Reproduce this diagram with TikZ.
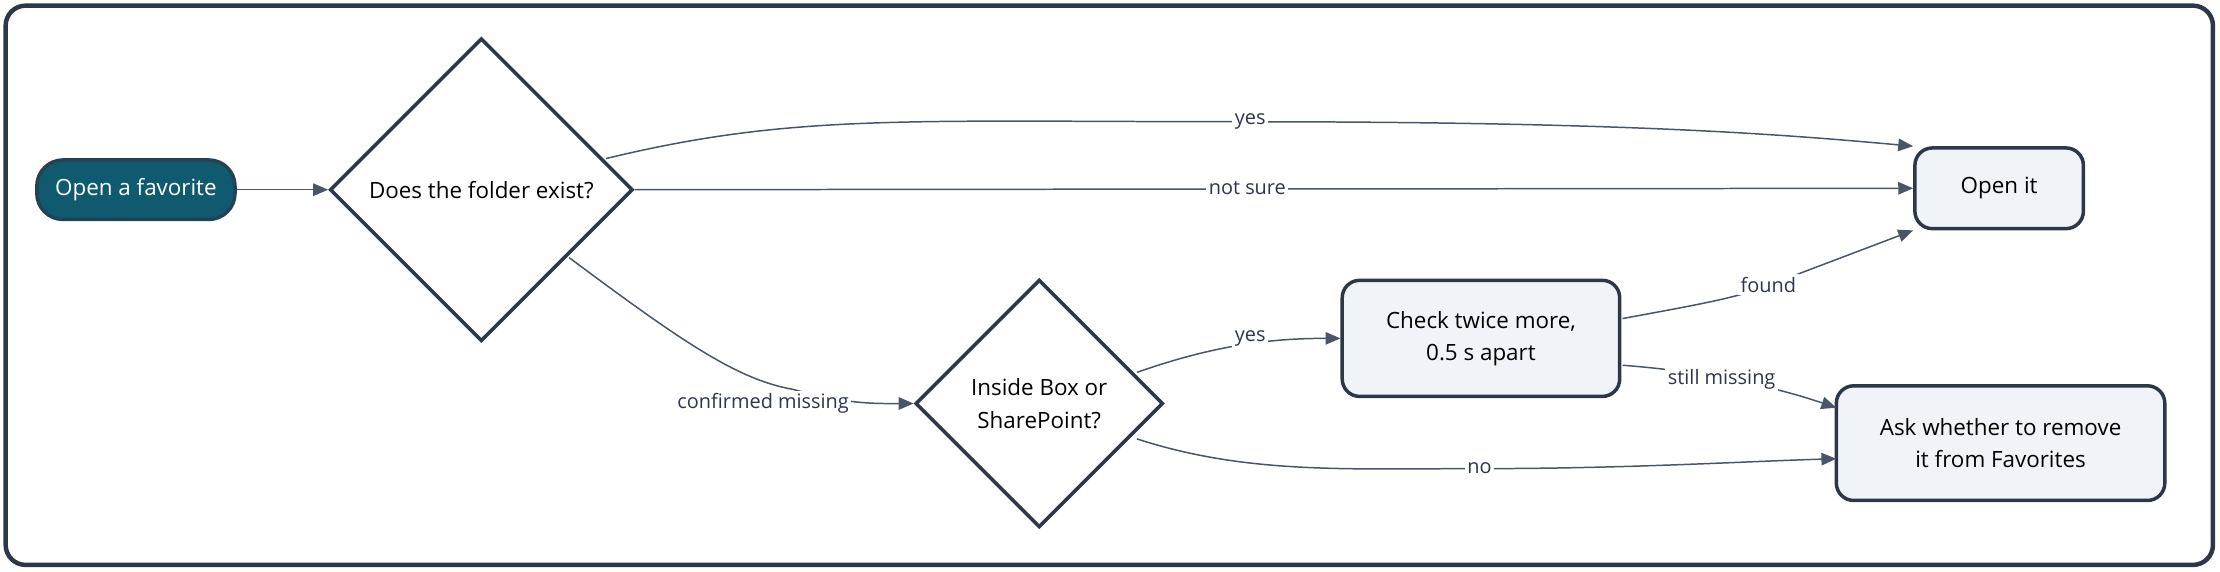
\documentclass[tikz,border=0pt]{standalone}
\usepackage{fontspec}
\setmainfont{Open Sans}
\usetikzlibrary{shapes.geometric,arrows.meta}
\definecolor{edge}{HTML}{4A5568}
\definecolor{bord}{HTML}{2D3748}
\definecolor{boxf}{HTML}{F0F3F8}
\definecolor{teal}{HTML}{0F5A6E}
\begin{document}
\begin{tikzpicture}[x=0.02cm,y=-0.02cm,
 box/.style={draw=bord,line width=1.4pt,fill=boxf,rounded corners=7pt,align=center,font=\fontsize{9}{13}\selectfont,inner sep=0pt},
 dia/.style={diamond,draw=bord,line width=1.4pt,fill=white,align=center,font=\fontsize{9}{13}\selectfont,inner sep=0pt,aspect=1},
 e/.style={draw=edge,line width=0.6pt,-{Triangle[length=6pt,width=5pt]}},
 lab/.style={fill=white,inner sep=1pt,font=\fontsize{8}{10}\selectfont,text=bord}]
\useasboundingbox (0,0) rectangle (1568,404);
\draw[draw=bord,line width=1.8pt,rounded corners=8pt] (4,4) rectangle (1563,399);
\node[draw=bord!70!teal,line width=1.4pt,fill=teal,rounded corners=10.5pt,minimum width=140*0.02cm,minimum height=42*0.02cm,text=white,font=\fontsize{9}{13}\selectfont] (s) at (96,134) {Open a favorite};
\node[dia,minimum width=214*0.02cm,minimum height=214*0.02cm] (d1) at (340,134) {Does the folder exist?};
\node[box,minimum width=119*0.02cm,minimum height=57*0.02cm] (o) at (1412,133) {Open it};
\node[dia,minimum width=175*0.02cm,minimum height=175*0.02cm] (d2) at (734,285) {Inside Box or\\SharePoint?};
\node[box,minimum width=196*0.02cm,minimum height=82*0.02cm] (c) at (1046,239) {Check twice more,\\0.5 s apart};
\node[box,minimum width=232*0.02cm,minimum height=81*0.02cm] (a) at (1413,313) {Ask whether to remove\\it from Favorites};
\draw[e] (s.east) -- (d1.west);
\draw[e] (428,112) .. controls (560,80) and (640,86) .. (880,86) .. controls (1150,86) and (1260,95) .. (o.north west);
\node[lab] at (883,86) {yes};
\draw[e] (d1.east) -- (o.west);
\node[lab] at (881,133) {not sure};
\draw[e] (402,182) .. controls (480,240) and (520,268) .. (560,275) .. controls (600,286) and (620,285) .. (d2.west);
\node[lab] at (539,285) {confirmed missing};
\draw[e] (803,263) .. controls (860,243) and (900,239) .. (c.west);
\node[lab] at (883,239) {yes};
\draw[e] (803,310) .. controls (880,335) and (950,331) .. (1045,331) .. controls (1150,331) and (1230,326) .. (1297,324);
\node[lab] at (1045,331) {no};
\draw[e] (1146,225) .. controls (1200,215) and (1230,210) .. (1253,200) -- (o.south west);
\node[lab] at (1249,201) {found};
\draw[e] (1146,258) .. controls (1200,262) and (1250,272) .. (1297,288);
\node[lab] at (1216,268) {still missing};
\end{tikzpicture}
\end{document}
